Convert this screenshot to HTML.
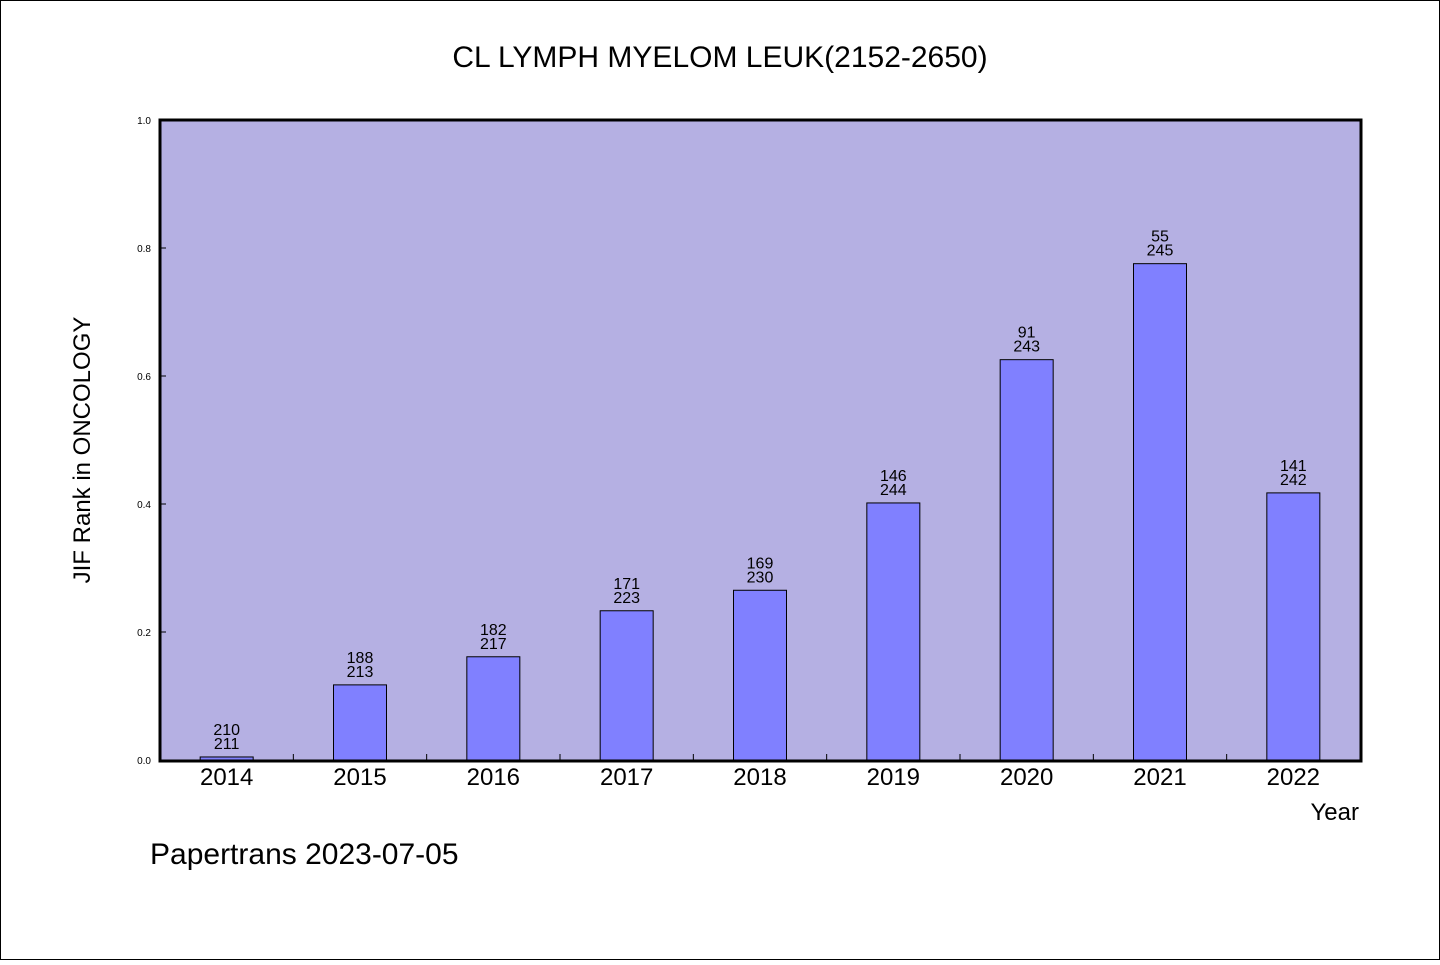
<!DOCTYPE html>
<html><head><meta charset="utf-8"><style>
html,body{margin:0;padding:0;background:#fff}
svg text{font-family:"WenQuanYi Zen Hei","Liberation Sans",sans-serif}
</style></head><body>
<svg width="1440" height="960" xmlns="http://www.w3.org/2000/svg">
<rect x="0.5" y="0.5" width="1439" height="959" fill="#fff" stroke="#000"/>
<text x="720" y="67" font-size="30" text-anchor="middle">CL LYMPH MYELOM LEUK(2152-2650)</text>
<rect x="160" y="120" width="1201" height="641" fill="#b5b0e3"/>
<g id="marks"></g>
<rect x="160" y="120" width="1201" height="641" fill="none" stroke="#000" stroke-width="3"/>
<text transform="translate(90,450) rotate(-90)" font-size="24" text-anchor="middle">JIF Rank in ONCOLOGY</text>
<text x="1359" y="820" font-size="24" text-anchor="end">Year</text>
<text x="150" y="864" font-size="30">Papertrans 2023-07-05</text>
</svg>
<script>
const years=['2014','2015','2016','2017','2018','2019','2020','2021','2022'];
const ranks=[210,188,182,171,169,146,91,55,141];
const totals=[211,213,217,223,230,244,243,245,242];
const yTicks=[0,0.2,0.4,0.6,0.8,1.0];
const yTickLabels=['0.0','0.2','0.4','0.6','0.8','1.0'];
const X0=160,W=1200,Y0=760,H=640;
const ns='http://www.w3.org/2000/svg';
const g=document.getElementById('marks');
const step=W/years.length;
const xc=i=>X0+step*(i+0.5);
const yv=v=>Y0-v*H;
function mk(t,a){const e=document.createElementNS(ns,t);for(const k in a)e.setAttribute(k,a[k]);g.appendChild(e);return e;}
yTicks.forEach((v,i)=>{
  const l=mk('line',{x1:X0,x2:X0+6,y1:yv(v),y2:yv(v),stroke:'#000','stroke-width':1});
  
  
  const t=mk('text',{x:151,y:yv(v)+4,'font-size':10,'text-anchor':'end'});
  t.textContent=yTickLabels[i];
  
  
});
for(let i=1;i<years.length;i++){
  const l=mk('line',{x1:X0+step*i,x2:X0+step*i,y1:Y0,y2:Y0-6,stroke:'#000','stroke-width':1});
  
  
}
years.forEach((y,i)=>{
  const v=1-ranks[i]/totals[i];
  const bw=53;
  const b=mk('rect',{x:xc(i)-bw/2,y:yv(v),width:bw,height:v*H,fill:'#8080ff',stroke:'#000','stroke-width':1});
  
  
  const t1=mk('text',{x:xc(i),y:yv(v)-22,'font-size':16,'text-anchor':'middle'});
  t1.textContent=ranks[i];
  
  
  const t2=mk('text',{x:xc(i),y:yv(v)-8,'font-size':16,'text-anchor':'middle'});
  t2.textContent=totals[i];
  
  
  const xl=mk('text',{x:xc(i),y:785,'font-size':24,'text-anchor':'middle'});
  xl.textContent=y;
  
  
});
</script>
</body></html>
